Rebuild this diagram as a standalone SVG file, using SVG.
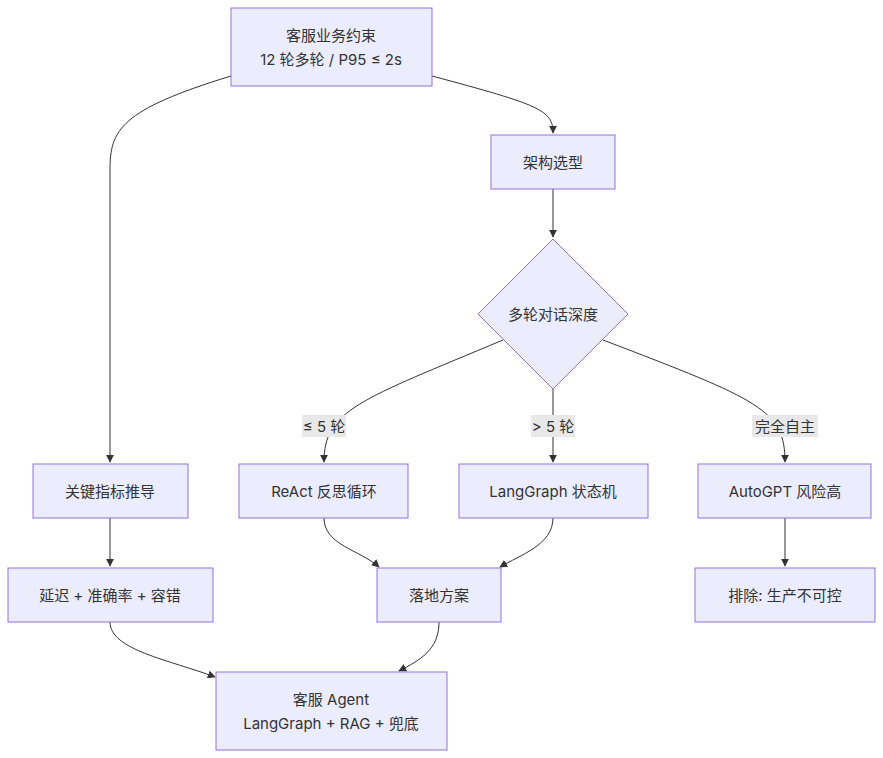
<svg xmlns="http://www.w3.org/2000/svg" width="883" height="758" viewBox="0 0 883 758">
<defs>
<marker id="arr" viewBox="0 0 10 10" refX="9" refY="5" markerWidth="8" markerHeight="8" orient="auto" markerUnits="userSpaceOnUse"><path d="M0,0 L10,5 L0,10 z" fill="#333"/></marker>
<style>
.n{fill:#ECECFF;stroke:#9370DB;stroke-width:1}
.t{font-family:Inter,"Noto Sans CJK SC",sans-serif;font-size:15px;fill:#333;text-anchor:middle;dominant-baseline:central}
.e{fill:none;stroke:#333;stroke-width:1;marker-end:url(#arr)}
.lb{fill:#e8e8e8}
</style>
</defs>
<rect width="883" height="758" fill="#fff"/>
<g id="edges">
<path class="e" d="M231,76 C120,110 110,130 110,170 L110,462"/>
<path class="e" d="M432,76 C540,105 553,110 553,133"/>
<path class="e" d="M553,189 L553,237"/>
<path class="e" d="M503,340 C360,400 324,410 324,462"/>
<path class="e" d="M553,389 L553,462"/>
<path class="e" d="M603,340 C760,400 785,410 785,462"/>
<path class="e" d="M110,518 L110,566"/>
<path class="e" d="M785,518 L785,566"/>
<path class="e" d="M324,518 C324,545 360,550 379,567"/>
<path class="e" d="M553,518 C553,545 520,555 500,567"/>
<path class="e" d="M110,622 C110,650 170,660 215,677"/>
<path class="e" d="M439,622 C439,650 420,660 399,671"/>
<rect class="lb" x="302" y="415" width="44" height="22"/><text class="t" x="324" y="426">≤ 5 轮</text>
<rect class="lb" x="531" y="415" width="44" height="22"/><text class="t" x="553" y="426">&gt; 5 轮</text>
<rect class="lb" x="752" y="415" width="66" height="22"/><text class="t" x="785" y="426">完全自主</text>
</g>
<g id="n1"><rect class="n" x="231" y="8" width="201" height="78"/><text class="t" x="331" y="35">客服业务约束</text><text class="t" x="331" y="59">12 轮多轮 / P95 ≤ 2s</text></g>
<g id="n2"><rect class="n" x="491" y="135" width="124" height="54"/><text class="t" x="553" y="162">架构选型</text></g>
<g id="n3"><polygon class="n" points="553,239 628,314 553,389 478,314"/><text class="t" x="553" y="314">多轮对话深度</text></g>
<g id="n4"><rect class="n" x="33" y="464" width="155" height="54"/><text class="t" x="110" y="491">关键指标推导</text></g>
<g id="n5"><rect class="n" x="239" y="464" width="169" height="54"/><text class="t" x="324" y="491">ReAct 反思循环</text></g>
<g id="n6"><rect class="n" x="459" y="464" width="189" height="54"/><text class="t" x="553" y="491">LangGraph 状态机</text></g>
<g id="n7"><rect class="n" x="698" y="464" width="173" height="54"/><text class="t" x="785" y="491">AutoGPT 风险高</text></g>
<g id="n8"><rect class="n" x="8" y="568" width="205" height="54"/><text class="t" x="110" y="595">延迟 + 准确率 + 容错</text></g>
<g id="n9"><rect class="n" x="377" y="568" width="124" height="54"/><text class="t" x="439" y="595">落地方案</text></g>
<g id="n10"><rect class="n" x="695" y="568" width="180" height="54"/><text class="t" x="785" y="595">排除: 生产不可控</text></g>
<g id="n11"><rect class="n" x="216" y="672" width="231" height="78"/><text class="t" x="331" y="699">客服 Agent</text><text class="t" x="331" y="723">LangGraph + RAG + 兜底</text></g>
</svg>
